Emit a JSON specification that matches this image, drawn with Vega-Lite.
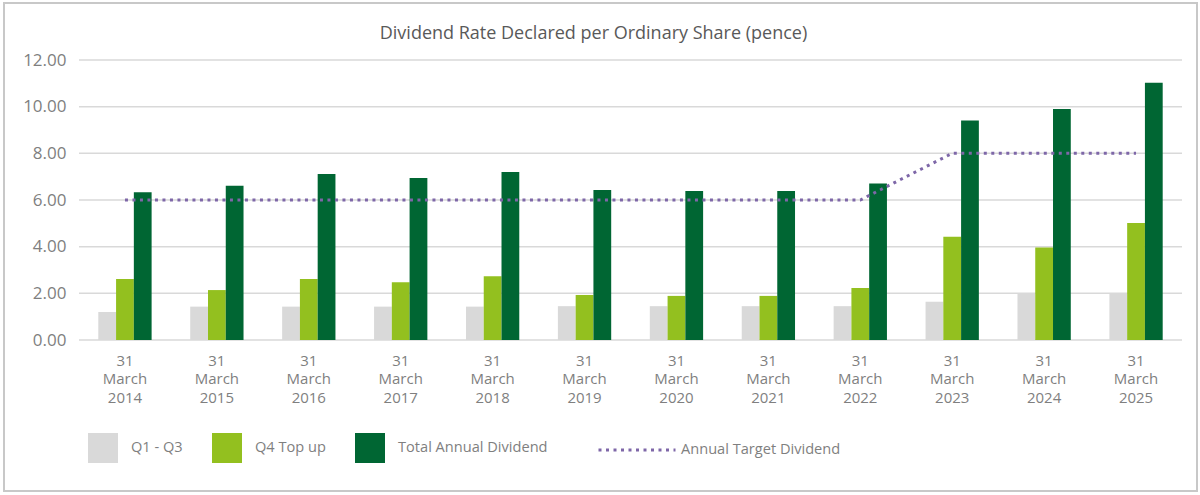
{
  "$schema": "https://vega.github.io/schema/vega-lite/v6.json",
  "autosize": {"type": "none"},
  "width": 1193,
  "height": 488,
  "padding": {"left": 4, "top": 3, "right": 3, "bottom": 4},
  "background": "white",
  "title": {
    "text": "Dividend Rate Declared per Ordinary Share (pence)",
    "anchor": "middle",
    "font": "Open Sans",
    "fontSize": 18,
    "fontWeight": "normal",
    "color": "#595959",
    "dy": 44,
    "dx": -7
  },
  "datasets": {
    "grid": [
      {"tick": 0}, {"tick": 2}, {"tick": 4}, {"tick": 6}, {"tick": 8}, {"tick": 10}, {"tick": 12}
    ],
    "dividends": [
      {"year_end": "31 March 2014", "series": "Q1 - Q3", "value": 1.20},
      {"year_end": "31 March 2014", "series": "Q4 Top up", "value": 2.61},
      {"year_end": "31 March 2014", "series": "Total Annual Dividend", "value": 6.33},
      {"year_end": "31 March 2015", "series": "Q1 - Q3", "value": 1.43},
      {"year_end": "31 March 2015", "series": "Q4 Top up", "value": 2.14},
      {"year_end": "31 March 2015", "series": "Total Annual Dividend", "value": 6.61},
      {"year_end": "31 March 2016", "series": "Q1 - Q3", "value": 1.43},
      {"year_end": "31 March 2016", "series": "Q4 Top up", "value": 2.61},
      {"year_end": "31 March 2016", "series": "Total Annual Dividend", "value": 7.11},
      {"year_end": "31 March 2017", "series": "Q1 - Q3", "value": 1.43},
      {"year_end": "31 March 2017", "series": "Q4 Top up", "value": 2.47},
      {"year_end": "31 March 2017", "series": "Total Annual Dividend", "value": 6.94},
      {"year_end": "31 March 2018", "series": "Q1 - Q3", "value": 1.43},
      {"year_end": "31 March 2018", "series": "Q4 Top up", "value": 2.73},
      {"year_end": "31 March 2018", "series": "Total Annual Dividend", "value": 7.20},
      {"year_end": "31 March 2019", "series": "Q1 - Q3", "value": 1.45},
      {"year_end": "31 March 2019", "series": "Q4 Top up", "value": 1.93},
      {"year_end": "31 March 2019", "series": "Total Annual Dividend", "value": 6.43},
      {"year_end": "31 March 2020", "series": "Q1 - Q3", "value": 1.45},
      {"year_end": "31 March 2020", "series": "Q4 Top up", "value": 1.89},
      {"year_end": "31 March 2020", "series": "Total Annual Dividend", "value": 6.39},
      {"year_end": "31 March 2021", "series": "Q1 - Q3", "value": 1.45},
      {"year_end": "31 March 2021", "series": "Q4 Top up", "value": 1.89},
      {"year_end": "31 March 2021", "series": "Total Annual Dividend", "value": 6.39},
      {"year_end": "31 March 2022", "series": "Q1 - Q3", "value": 1.45},
      {"year_end": "31 March 2022", "series": "Q4 Top up", "value": 2.23},
      {"year_end": "31 March 2022", "series": "Total Annual Dividend", "value": 6.71},
      {"year_end": "31 March 2023", "series": "Q1 - Q3", "value": 1.64},
      {"year_end": "31 March 2023", "series": "Q4 Top up", "value": 4.43},
      {"year_end": "31 March 2023", "series": "Total Annual Dividend", "value": 9.41},
      {"year_end": "31 March 2024", "series": "Q1 - Q3", "value": 2.00},
      {"year_end": "31 March 2024", "series": "Q4 Top up", "value": 3.96},
      {"year_end": "31 March 2024", "series": "Total Annual Dividend", "value": 9.90},
      {"year_end": "31 March 2025", "series": "Q1 - Q3", "value": 2.00},
      {"year_end": "31 March 2025", "series": "Q4 Top up", "value": 5.01},
      {"year_end": "31 March 2025", "series": "Total Annual Dividend", "value": 11.03}
    ],
    "target": [
      {"year_end": "31 March 2014", "series": "Annual Target Dividend", "target": 6},
      {"year_end": "31 March 2015", "series": "Annual Target Dividend", "target": 6},
      {"year_end": "31 March 2016", "series": "Annual Target Dividend", "target": 6},
      {"year_end": "31 March 2017", "series": "Annual Target Dividend", "target": 6},
      {"year_end": "31 March 2018", "series": "Annual Target Dividend", "target": 6},
      {"year_end": "31 March 2019", "series": "Annual Target Dividend", "target": 6},
      {"year_end": "31 March 2020", "series": "Annual Target Dividend", "target": 6},
      {"year_end": "31 March 2021", "series": "Annual Target Dividend", "target": 6},
      {"year_end": "31 March 2022", "series": "Annual Target Dividend", "target": 6},
      {"year_end": "31 March 2023", "series": "Annual Target Dividend", "target": 8},
      {"year_end": "31 March 2024", "series": "Annual Target Dividend", "target": 8},
      {"year_end": "31 March 2025", "series": "Annual Target Dividend", "target": 8}
    ]
  },
  "layer": [
    {
      "data": {"name": "grid"},
      "mark": {"type": "rule", "color": "#d9d9d9", "strokeWidth": 1.5},
      "encoding": {
        "x": {"datum": 0, "type": "quantitative", "scale": {"domain": [0, 1], "range": [75, 1178]}, "axis": null},
        "x2": {"datum": 1},
        "y": {
          "field": "tick",
          "type": "quantitative",
          "title": null,
          "scale": {"domain": [0, 12], "range": [337, 57], "nice": false},
          "axis": {"values": [0, 2, 4, 6, 8, 10, 12]}
        }
      }
    },
    {
      "layer": [
        {
          "data": {"name": "dividends"},
          "mark": {"type": "bar"},
          "encoding": {
            "x": {
              "field": "year_end",
              "type": "nominal",
              "title": null,
              "scale": {
                "domain": ["31 March 2014", "31 March 2015", "31 March 2016", "31 March 2017", "31 March 2018", "31 March 2019", "31 March 2020", "31 March 2021", "31 March 2022", "31 March 2023", "31 March 2024", "31 March 2025"],
                "range": [75, 1178],
                "paddingInner": 0.42,
                "paddingOuter": 0.21
              }
            },
            "xOffset": {
              "field": "series",
              "type": "nominal",
              "scale": {"domain": ["Q1 - Q3", "Q4 Top up", "Total Annual Dividend"], "paddingInner": 0, "paddingOuter": 0}
            },
            "y": {"field": "value", "type": "quantitative", "title": null, "axis": {"values": [0, 2, 4, 6, 8, 10, 12]}},
            "color": {
              "field": "series",
              "type": "nominal",
              "scale": {"domain": ["Q1 - Q3", "Q4 Top up", "Total Annual Dividend"], "range": ["#d9d9d9", "#93c01f", "#006633"]},
              "legend": {
                "orient": "none",
                "legendX": 84,
                "legendY": 430,
                "direction": "horizontal",
                "title": null,
                "symbolType": "square",
                "symbolSize": 900,
                "symbolStrokeWidth": 0,
                "labelOffset": 13,
                "columnPadding": 29,
                "labelFont": "Open Sans",
                "labelFontSize": 14.6,
                "labelColor": "#7f7f7f"
              }
            }
          }
        },
        {
          "data": {"name": "target"},
          "mark": {"type": "line", "strokeWidth": 3, "strokeDash": [3, 4.5]},
          "encoding": {
            "x": {"field": "year_end", "type": "nominal", "title": null},
            "y": {"field": "target", "type": "quantitative", "title": null, "axis": {"values": [0, 2, 4, 6, 8, 10, 12]}},
            "stroke": {
              "field": "series",
              "type": "nominal",
              "scale": {"range": ["#7e67a8"]},
              "legend": {
                "orient": "none",
                "legendX": 593,
                "legendY": 407,
                "title": null,
                "symbolType": "stroke",
                "symbolSize": 5929,
                "symbolStrokeWidth": 3,
                "symbolDash": [3, 4.5],
                "labelOffset": 4,
                "labelLimit": 0,
                "labelFont": "Open Sans",
                "labelFontSize": 14.6,
                "labelColor": "#7f7f7f"
              }
            }
          }
        }
      ]
    }
  ],
  "resolve": {"scale": {"x": "independent"}},
  "config": {
    "view": {"stroke": "#c8c8c8", "strokeWidth": 2},
    "axisY": {
      "orient": "left",
      "offset": -72,
      "format": ".2f",
      "domain": false,
      "ticks": false,
      "grid": false,
      "labelPadding": 10,
      "labelFont": "Open Sans",
      "labelFontSize": 17,
      "labelColor": "#7f7f7f"
    },
    "axisX": {
      "offset": -151,
      "domain": false,
      "ticks": false,
      "grid": false,
      "labelAngle": 0,
      "labelExpr": "split(datum.label, ' ')",
      "labelLineHeight": 18.5,
      "labelPadding": 13,
      "labelFont": "Open Sans",
      "labelFontSize": 15,
      "labelColor": "#7f7f7f",
      "labelLimit": 0,
      "labelOverlap": false
    }
  }
}
